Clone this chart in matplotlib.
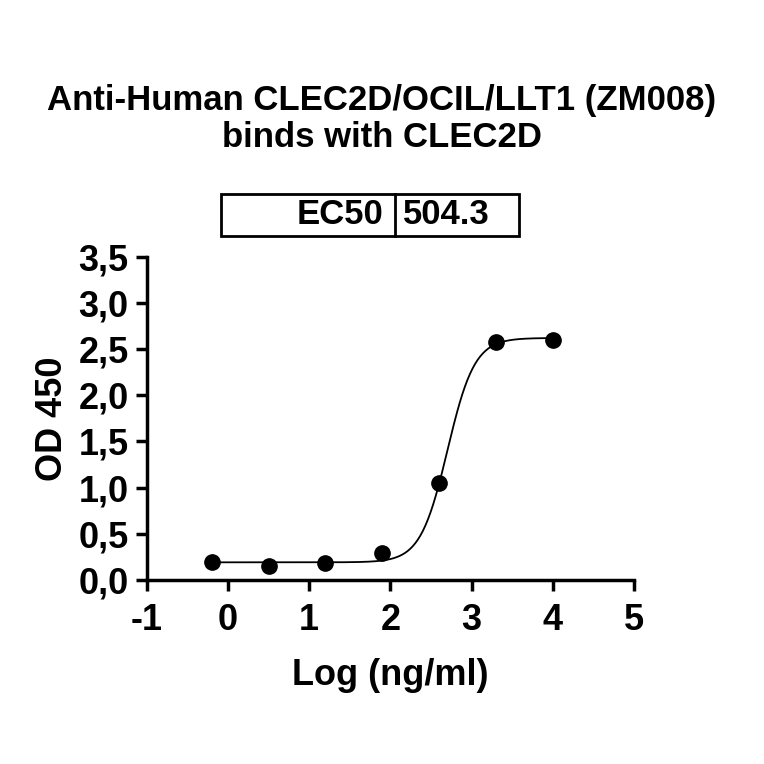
import matplotlib
matplotlib.use('Agg')
from matplotlib import pyplot as plt
from matplotlib.patches import Rectangle
import numpy as np

plt.rcParams['font.family'] = ['Liberation Sans', 'DejaVu Sans']
plt.rcParams['font.weight'] = 'bold'

# measured points
log_conc = [-0.2, 0.5, 1.2, 1.9, 2.6, 3.3, 4.0]
od450 = [0.19, 0.15, 0.18, 0.29, 1.05, 2.58, 2.60]

# 4PL fit parameters
bottom, top, ec50, hill = 0.19, 2.62, 504.3, 2.6

x_ticks = [-1, 0, 1, 2, 3, 4, 5]
y_ticks = [0.0, 0.5, 1.0, 1.5, 2.0, 2.5, 3.0, 3.5]
y_labels = ['0,0', '0,5', '1,0', '1,5', '2,0', '2,5', '3,0', '3,5']

fig = plt.figure(figsize=(7.64, 7.64), dpi=100)
ax = fig.add_axes([0.192, 0.241, 0.638, 0.423])

xf = np.linspace(min(log_conc), max(log_conc), 400)
yf = bottom + (top - bottom) / (1 + 10 ** ((np.log10(ec50) - xf) * hill))
ax.plot(xf, yf, color='black', lw=1.3)
ax.plot(log_conc, od450, 'o', color='black', ms=11)

ax.set_xlim(-1, 5)
ax.set_ylim(0, 3.5)
ax.set_xticks(x_ticks)
ax.set_xticklabels([str(t) for t in x_ticks])
ax.set_yticks(y_ticks)
ax.set_yticklabels(y_labels)
for s in ['top', 'right']:
    ax.spines[s].set_visible(False)
for s in ['left', 'bottom']:
    ax.spines[s].set_linewidth(2.5)
ax.tick_params(width=2.5, length=8, labelsize=26, pad=5)
ax.tick_params(axis='x', pad=9)
for lab in ax.get_xticklabels() + ax.get_yticklabels():
    lab.set_fontweight('bold')

ax.set_xlabel('Log (ng/ml)', fontsize=26, fontweight='bold', labelpad=14)
ax.set_ylabel('OD 450', fontsize=26, fontweight='bold', labelpad=6)

fig.text(0.5, 1 - 119/764, 'Anti-Human CLEC2D/OCIL/LLT1 (ZM008)\nbinds with CLEC2D',
         ha='center', va='center', fontsize=25, fontweight='bold', linespacing=1.12)

# EC50 table
box_l, box_r, box_b, box_t, div = 221/764, 519/764, 1 - 236/764, 1 - 194/764, 395/764
fig.add_artist(Rectangle((box_l, box_b), box_r - box_l, box_t - box_b,
                         transform=fig.transFigure, fill=False, lw=2, ec='black'))
fig.add_artist(plt.Line2D([div, div], [box_b, box_t], transform=fig.transFigure,
                          color='black', lw=2))
ymid = (box_b + box_t) / 2
fig.text(div - 12/764, ymid, 'EC50', ha='right', va='center', fontsize=25, fontweight='bold')
fig.text(div + 8/764, ymid, '504.3', ha='left', va='center', fontsize=25, fontweight='bold')

fig.savefig('out.png', dpi=100)
plt.close()
